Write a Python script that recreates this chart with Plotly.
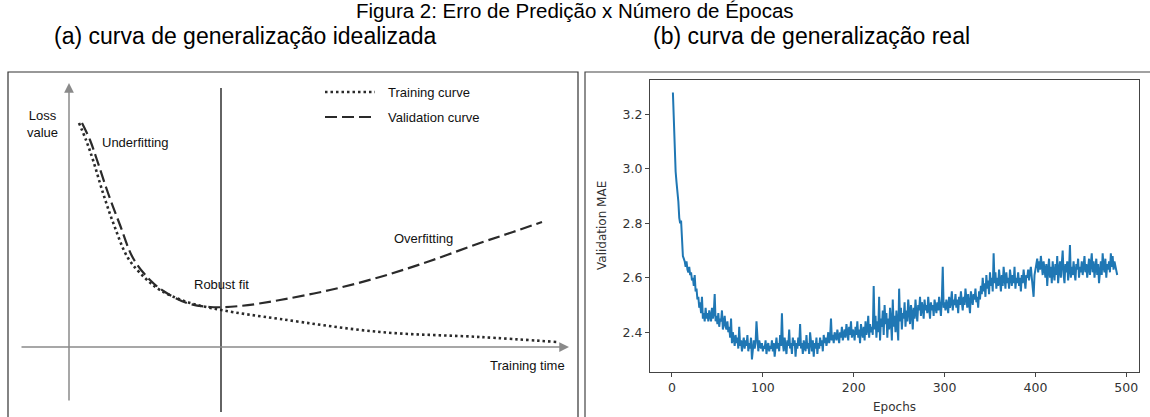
import plotly.graph_objects as go

# ---------------- Panel (a): idealized curves (diagram units: t = training time, L = loss)
train_t = [0.20, 0.34, 0.48, 0.68, 0.90, 1.18, 1.52, 1.82, 2.36, 3.04, 4.22, 6.22, 8.22, 9.76]
train_L = [8.96, 8.28, 7.48, 6.16, 4.88, 3.56, 2.76, 2.28, 1.80, 1.48, 1.12, 0.60, 0.40, 0.20]
valid_t = [0.26, 0.42, 0.56, 0.78, 1.02, 1.28, 1.62, 1.92, 2.36, 2.82, 3.42, 4.22, 5.22, 6.22, 7.22, 8.22, 8.88, 9.46]
valid_L = [8.96, 8.28, 7.48, 6.16, 4.88, 3.56, 2.68, 2.20, 1.76, 1.60, 1.64, 1.88, 2.28, 2.80, 3.44, 4.16, 4.60, 5.00]
robust_t = 3.04

# ---------------- Panel (b): real validation MAE per epoch
mae = [
    3.28, 3.15, 3.03, 2.99, 2.95, 2.92, 2.88, 2.82, 2.80, 2.81,
    2.74, 2.68, 2.67, 2.66, 2.64, 2.66, 2.63, 2.62, 2.64, 2.61,
    2.62, 2.59, 2.60, 2.57, 2.61, 2.55, 2.56, 2.52, 2.53, 2.49,
    2.51, 2.47, 2.53, 2.45, 2.47, 2.44, 2.49, 2.45, 2.47, 2.44,
    2.48, 2.46, 2.44, 2.49, 2.45, 2.47, 2.54, 2.44, 2.46, 2.43,
    2.47, 2.42, 2.45, 2.44, 2.48, 2.41, 2.43, 2.46, 2.42, 2.41,
    2.44, 2.40, 2.42, 2.38, 2.45, 2.36, 2.40, 2.37, 2.35, 2.39,
    2.36, 2.38, 2.34, 2.42, 2.35, 2.37, 2.33, 2.36, 2.38, 2.34,
    2.37, 2.35, 2.39, 2.33, 2.36, 2.34, 2.38, 2.30, 2.35, 2.37,
    2.34, 2.36, 2.44, 2.35, 2.33, 2.37, 2.35, 2.34, 2.36, 2.33,
    2.35, 2.34, 2.37, 2.32, 2.35, 2.36, 2.33, 2.35, 2.34, 2.37,
    2.33, 2.36, 2.31, 2.35, 2.38, 2.34, 2.36, 2.33, 2.39, 2.35,
    2.47, 2.36, 2.33, 2.38, 2.34, 2.32, 2.37, 2.35, 2.41, 2.34,
    2.36, 2.32, 2.38, 2.35, 2.37, 2.31, 2.36, 2.34, 2.38, 2.35,
    2.43, 2.34, 2.36, 2.32, 2.37, 2.35, 2.33, 2.39, 2.34, 2.36,
    2.32, 2.40, 2.35, 2.33, 2.37, 2.31, 2.36, 2.34, 2.38, 2.32,
    2.36, 2.34, 2.38, 2.35, 2.37, 2.33, 2.39, 2.36, 2.38, 2.35,
    2.37, 2.40, 2.36, 2.38, 2.45, 2.37, 2.39, 2.36, 2.40, 2.38,
    2.37, 2.41, 2.39, 2.36, 2.40, 2.38, 2.42, 2.37, 2.39, 2.41,
    2.38, 2.43, 2.40, 2.37, 2.42, 2.39, 2.44, 2.38, 2.41, 2.40,
    2.37, 2.42, 2.39, 2.44, 2.38, 2.41, 2.36, 2.43, 2.40, 2.38,
    2.42, 2.37, 2.44, 2.39, 2.41, 2.46, 2.38, 2.43, 2.40, 2.42,
    2.39, 2.57, 2.41, 2.46, 2.38, 2.44, 2.40, 2.53, 2.37, 2.45,
    2.42, 2.48, 2.39, 2.50, 2.43, 2.47, 2.38, 2.45, 2.41, 2.49,
    2.44, 2.37, 2.52, 2.42, 2.46, 2.40, 2.48, 2.43, 2.37, 2.56,
    2.44, 2.49, 2.41, 2.47, 2.45, 2.51, 2.42, 2.48, 2.44, 2.52,
    2.46, 2.43, 2.50, 2.47, 2.41, 2.49, 2.45, 2.52, 2.47, 2.44,
    2.50, 2.48, 2.53, 2.46, 2.51, 2.49, 2.45, 2.52, 2.48, 2.50,
    2.47, 2.53, 2.49, 2.45, 2.51, 2.48, 2.50, 2.46, 2.52, 2.49,
    2.47, 2.51, 2.48, 2.53, 2.50, 2.46, 2.52, 2.64, 2.49, 2.51,
    2.48, 2.52, 2.50, 2.47, 2.53, 2.49, 2.51, 2.55, 2.48, 2.52,
    2.50, 2.54, 2.49, 2.52, 2.47, 2.53, 2.50, 2.55, 2.51, 2.48,
    2.53, 2.50, 2.56, 2.52, 2.49, 2.54, 2.51, 2.47, 2.55, 2.52,
    2.50, 2.54, 2.52, 2.56, 2.51, 2.53, 2.49, 2.55, 2.52, 2.57,
    2.54, 2.60, 2.55, 2.58, 2.53, 2.61, 2.56, 2.59, 2.54, 2.62,
    2.57, 2.60, 2.55, 2.69, 2.58, 2.62, 2.56, 2.60, 2.57, 2.63,
    2.58, 2.55, 2.61, 2.57, 2.64, 2.59, 2.56, 2.62, 2.58, 2.60,
    2.56, 2.63, 2.59, 2.57, 2.61, 2.58, 2.64, 2.56, 2.60, 2.58,
    2.62, 2.57, 2.60, 2.55, 2.61, 2.58, 2.63, 2.59, 2.56, 2.61,
    2.60, 2.63, 2.59, 2.62, 2.64, 2.60, 2.57, 2.53, 2.61, 2.64,
    2.65, 2.67, 2.62, 2.66, 2.63, 2.68, 2.64, 2.61, 2.66, 2.63,
    2.60, 2.65, 2.57, 2.63, 2.67, 2.60, 2.64, 2.58, 2.66, 2.62,
    2.59, 2.65, 2.61, 2.68, 2.58, 2.63, 2.66, 2.60, 2.64, 2.70,
    2.61, 2.58, 2.65, 2.62, 2.66, 2.59, 2.63, 2.72, 2.60, 2.64,
    2.61, 2.66, 2.62, 2.59, 2.65, 2.63, 2.67, 2.60, 2.64, 2.62,
    2.66, 2.61, 2.64, 2.68, 2.62, 2.65, 2.60, 2.63, 2.67, 2.61,
    2.64, 2.69, 2.62, 2.66, 2.60, 2.63, 2.67, 2.61, 2.65, 2.58,
    2.63, 2.66, 2.61, 2.69, 2.64, 2.62, 2.67, 2.60, 2.65, 2.63,
    2.66, 2.62, 2.69, 2.64, 2.68, 2.63, 2.66, 2.64, 2.62, 2.61,
]
epochs = list(range(1, len(mae) + 1))
x_ticks = [0, 100, 200, 300, 400, 500]
y_ticks = [2.4, 2.6, 2.8, 3.0, 3.2]

W, H = 1150, 417
def px(x):
    return x / W
def py(y):
    return 1 - y / H

fig = go.Figure()
DARK = "#2a2a2a"
fig.add_trace(go.Scatter(x=train_t, y=train_L, mode="lines", line=dict(color=DARK, width=2.6, dash="2.5px,3px", shape="spline"),
                         xaxis="x", yaxis="y", hoverinfo="skip"))
fig.add_trace(go.Scatter(x=valid_t, y=valid_L, mode="lines", line=dict(color=DARK, width=2.2, dash="12px,5px", shape="spline"),
                         xaxis="x", yaxis="y", hoverinfo="skip"))
# legend samples in diagram
fig.add_trace(go.Scatter(x=[5.12, 6.12], y=[10.2, 10.2], mode="lines", line=dict(color=DARK, width=2.6, dash="2.5px,3px"),
                         xaxis="x", yaxis="y", hoverinfo="skip"))
fig.add_trace(go.Scatter(x=[5.12, 6.12], y=[9.2, 9.2], mode="lines", line=dict(color=DARK, width=2.2, dash="12px,5px"),
                         xaxis="x", yaxis="y", hoverinfo="skip"))
# vertical robust-fit line
fig.add_trace(go.Scatter(x=[robust_t, robust_t], y=[10.36, -2.6], mode="lines", line=dict(color="#222", width=1.4),
                         xaxis="x", yaxis="y", hoverinfo="skip"))
# real curve
fig.add_trace(go.Scatter(x=epochs, y=mae, mode="lines", line=dict(color="#1f77b4", width=2),
                         xaxis="x2", yaxis="y2", hoverinfo="skip"))

TXT = dict(family="Liberation Sans, Arial, sans-serif", color="#111")
ann = []
# titles
ann.append(dict(text="Figura 2: Erro de Predição x Número de Épocas", x=px(575), y=py(11), xref="paper", yref="paper",
                showarrow=False, font=dict(TXT, size=20.5, color="black"), xanchor="center", yanchor="middle"))
ann.append(dict(text="(a) curva de generalização idealizada", x=px(245), y=py(36), xref="paper", yref="paper",
                showarrow=False, font=dict(TXT, size=23, color="black"), xanchor="center", yanchor="middle"))
ann.append(dict(text="(b) curva de generalização real", x=px(811), y=py(36), xref="paper", yref="paper",
                showarrow=False, font=dict(TXT, size=23, color="black"), xanchor="center", yanchor="middle"))
# axes arrows in diagram
ann.append(dict(x=0, y=10.56, ax=0, ay=-2.2, xref="x", yref="y", axref="x", ayref="y", text="", showarrow=True,
                arrowhead=2, arrowsize=1.3, arrowwidth=1.5, arrowcolor="#8a8a8a"))
ann.append(dict(x=10.0, y=0, ax=-0.98, ay=0, xref="x", yref="y", axref="x", ayref="y", text="", showarrow=True,
                arrowhead=2, arrowsize=1.3, arrowwidth=1.5, arrowcolor="#8a8a8a"))
DF = dict(TXT, size=13)
ann.append(dict(text="Loss<br>value", x=-0.54, y=8.92, xref="x", yref="y", showarrow=False, font=DF, align="center"))
ann.append(dict(text="Underfitting", x=0.62, y=8.2, xref="x", yref="y", showarrow=False, font=DF, xanchor="left"))
ann.append(dict(text="Robust fit", x=robust_t, y=2.52, xref="x", yref="y", showarrow=False, font=DF))
ann.append(dict(text="Overfitting", x=7.08, y=4.36, xref="x", yref="y", showarrow=False, font=DF))
ann.append(dict(text="Training time", x=9.96, y=-0.72, xref="x", yref="y", showarrow=False, font=DF, xanchor="right"))
ann.append(dict(text="Training curve", x=6.34, y=10.2, xref="x", yref="y", showarrow=False, font=DF, xanchor="left"))
ann.append(dict(text="Validation curve", x=6.34, y=9.2, xref="x", yref="y", showarrow=False, font=DF, xanchor="left"))
# axis labels for panel (b)
MF = dict(family="DejaVu Sans, sans-serif", size=12, color="#333")
ann.append(dict(text="Validation MAE", x=px(602), y=py(226), xref="paper", yref="paper", showarrow=False, font=MF,
                textangle=-90, xanchor="center", yanchor="middle"))
ann.append(dict(text="Epochs", x=px(895), y=py(407), xref="paper", yref="paper", showarrow=False, font=MF,
                xanchor="center", yanchor="middle"))

shapes = [
    dict(type="rect", xref="paper", yref="paper", x0=px(8), x1=px(578), y0=-0.05, y1=py(72),
         line=dict(color="#333", width=1.2), fillcolor="rgba(0,0,0,0)"),
    dict(type="rect", xref="paper", yref="paper", x0=px(585), x1=1.05, y0=-0.05, y1=py(72),
         line=dict(color="#444", width=1.2), fillcolor="rgba(0,0,0,0)"),
]

fig.update_layout(
    width=W, height=H, margin=dict(l=0, r=0, t=0, b=0),
    paper_bgcolor="white", plot_bgcolor="white", showlegend=False,
    xaxis=dict(domain=[0, px(580)], range=[-1.38, 10.22], visible=False, fixedrange=True),
    yaxis=dict(domain=[0, 1], range=[-2.8, 13.88], visible=False, fixedrange=True),
    xaxis2=dict(domain=[px(650), px(1139)], range=[-24.2, 514], anchor="y2", tickvals=x_ticks,
                showline=True, mirror=True, linecolor="#444", linewidth=1.2, ticks="outside", ticklen=4,
                tickcolor="#444", showgrid=False, zeroline=False, tickfont=dict(family="DejaVu Sans", size=12.5, color="#333")),
    yaxis2=dict(domain=[py(372), py(80)], range=[2.254, 3.326], anchor="x2", tickvals=y_ticks, tickformat=".1f",
                showline=True, mirror=True, linecolor="#444", linewidth=1.2, ticks="outside", ticklen=4,
                tickcolor="#444", showgrid=False, zeroline=False, tickfont=dict(family="DejaVu Sans", size=12.5, color="#333")),
    annotations=ann, shapes=shapes,
)
fig.write_html("out.html", config={"displayModeBar": False},
               post_script="document.body.style.margin='0px';document.body.style.overflow='hidden';")
